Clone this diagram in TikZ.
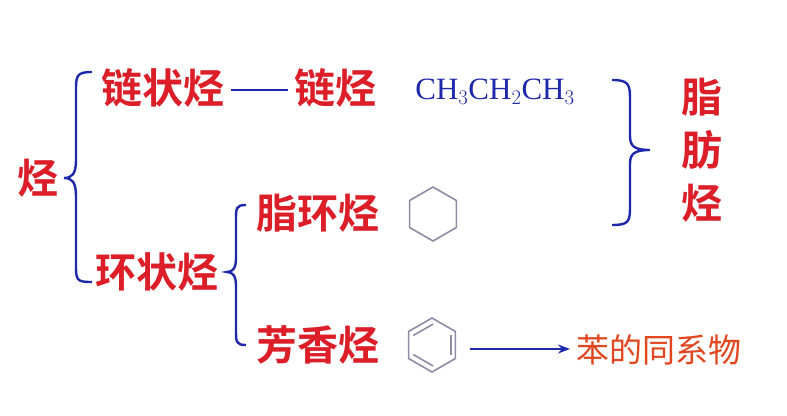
\documentclass[tikz,border=0pt]{standalone}
\usepackage{fontspec}
\usetikzlibrary{calc,arrows.meta}
\setmainfont{Liberation Serif}
\newfontfamily\cjk{Noto Sans CJK SC}[BoldFont={* Bold}]
\definecolor{myred}{RGB}{220,30,40}
\definecolor{myblue}{RGB}{30,40,170}
\definecolor{myorange}{RGB}{225,70,30}
\definecolor{hexgray}{RGB}{140,140,165}
\begin{document}
\begin{tikzpicture}[x=1pt,y=-1pt,
  cn/.style={font=\cjk\bfseries\fontsize{41}{44}\selectfont, text=myred, inner sep=0pt},
  br/.style={draw=myblue, line width=2.4pt},
  hexa/.style={draw=hexgray, line width=1.6pt}]
\useasboundingbox (0,0) rectangle (787,415);
\node[cn] (t) at (38,178) {烃};
\node[cn] (ls) at (163,88) {链状烃};
\node[cn] (lt) at (335,88) {链烃};
\node[font=\fontsize{31}{34}\selectfont, text=myblue, inner sep=0pt] (ch) at (495,92) {CH$_3$CH$_2$CH$_3$};
\node[cn] (hs) at (157,272) {环状烃};
\node[cn] (zh) at (318,213) {脂环烃};
\node[cn] (fx) at (318,345) {芳香烃};
\node[cn] (z1) at (702,97) {脂};
\node[cn] (z2) at (702,150) {肪};
\node[cn] (z3) at (702,203) {烃};
\node[font=\cjk\fontsize{33}{36}\selectfont, text=myorange, inner sep=0pt, anchor=west] (bt) at (576,350) {苯的同系物};
% braces
\draw[br] (92,72) .. controls (76,72) and (76,76) .. (76,92) -- (76,160) .. controls (76,174) and (72,178) .. (64,178)
  .. controls (72,178) and (76,182) .. (76,196) -- (76,264) .. controls (76,280) and (76,282) .. (92,282);
\draw[br] (246,205) .. controls (236,205) and (236,208) .. (236,220) -- (236,258) .. controls (236,268) and (233,272) .. (227,272)
  .. controls (233,272) and (236,276) .. (236,286) -- (236,330) .. controls (236,342) and (236,345) .. (246,345);
\draw[br] (612,80) .. controls (628,80) and (630,84) .. (630,98) -- (630,136) .. controls (630,146) and (634,150) .. (650,150)
  .. controls (634,150) and (630,154) .. (630,164) -- (630,208) .. controls (630,222) and (628,225) .. (612,225);
\coordinate (d1) at ($(ls.east)+(6,2)$);
\coordinate (d2) at ($(lt.west)+(-6,2)$);
\draw[myblue, line width=2.2pt] (d1) -- (d2);
% cyclohexane
\coordinate (cy) at (433,214);
\draw[hexa] ($(cy)+(90:27)$) -- ($(cy)+(30:27)$) -- ($(cy)+(-30:27)$) -- ($(cy)+(-90:27)$) -- ($(cy)+(-150:27)$) -- ($(cy)+(150:27)$) -- cycle;
% benzene
\coordinate (bz) at (432,345);
\draw[hexa] ($(bz)+(90:27)$) -- ($(bz)+(30:27)$) -- ($(bz)+(-30:27)$) -- ($(bz)+(-90:27)$) -- ($(bz)+(-150:27)$) -- ($(bz)+(150:27)$) -- cycle;
\draw[hexa] ($(bz)+(87:21)$) -- ($(bz)+(153:21)$);
\draw[hexa] ($(bz)+(27:21)$) -- ($(bz)+(-27:21)$);
\draw[hexa] ($(bz)+(-87:21)$) -- ($(bz)+(-153:21)$);
\coordinate (a1) at (470,349);
\draw[-{Stealth[length=12pt,width=9pt]}, draw=myblue, line width=2.2pt] (a1) -- ($(bt.west |- a1)+(-6,0)$);
\end{tikzpicture}
\end{document}
